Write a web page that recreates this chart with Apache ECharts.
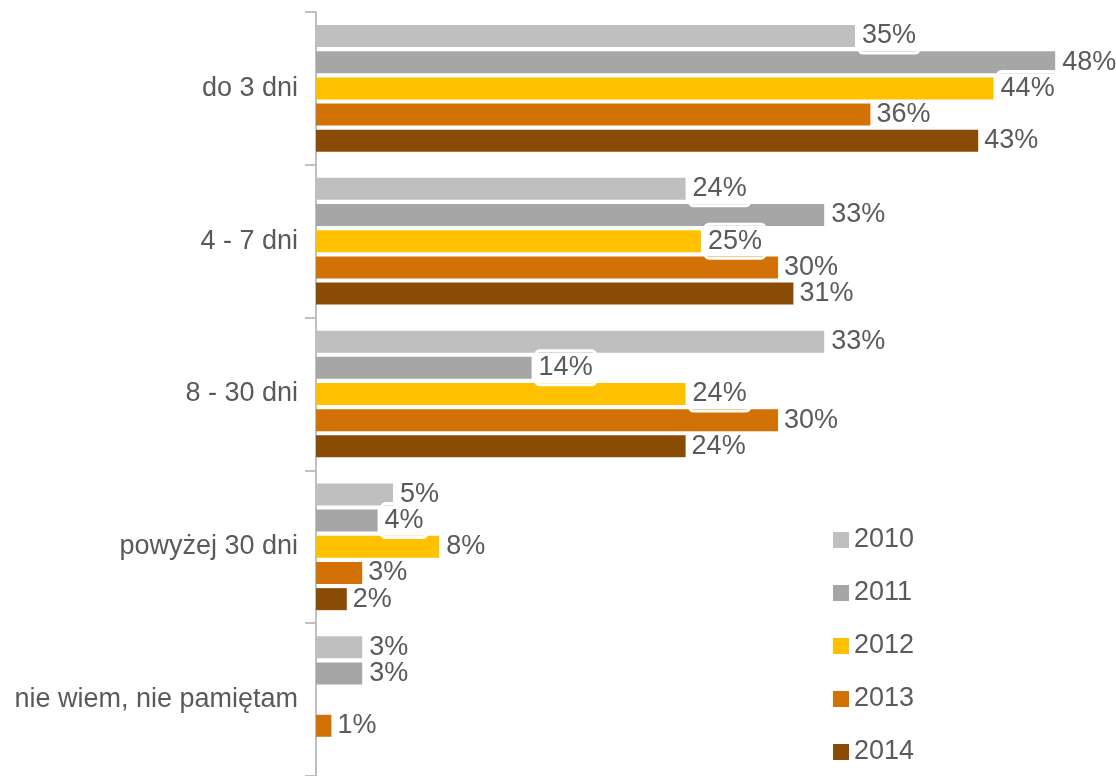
<!DOCTYPE html>
<html>
<head>
<meta charset="utf-8">
<style>
  html, body { margin: 0; padding: 0; background: #ffffff; }
  #chart { width: 1116px; height: 776px; }
</style>
<script src="https://cdn.jsdelivr.net/npm/echarts@6/dist/echarts.min.js"></script>
</head>
<body>
<div id="chart"></div>
<script>
// Czas trwania – odpowiedzi w kolejnych latach (%)
const categories = ['do 3 dni', '4 - 7 dni', '8 - 30 dni', 'powyżej 30 dni', 'nie wiem, nie pamiętam'];
const years = ['2010', '2011', '2012', '2013', '2014'];
const v2010 = [35, 24, 33, 5, 3];
const v2011 = [48, 33, 14, 4, 3];
const v2012 = [44, 25, 24, 8, null];
const v2013 = [36, 30, 30, 3, 1];
const v2014 = [43, 31, 24, 2, null];
const seriesValues = [v2010, v2011, v2012, v2013, v2014];
const colors = ['#bfbfbf', '#a6a6a6', '#ffc000', '#d27206', '#8a4b05'];
// labels of the first three years sit on a white rounded box
const boxedLabel = [true, true, true, false, false];

const FONT = '"Liberation Sans", Arial, sans-serif';
const TEXT = '#5a5a5a';

const chart = echarts.init(document.getElementById('chart'), null, { renderer: 'canvas' });

function makeLabel(boxed) {
  if (!boxed) {
    return {
      show: true,
      position: 'right',
      distance: 6,
      formatter: p => p.value + '%',
      fontFamily: FONT,
      fontSize: 27,
      lineHeight: 30,
      color: TEXT
    };
  }
  return {
    show: true,
    position: 'right',
    distance: 4,
    formatter: p => '{v|' + p.value + '%}',
    padding: [2, 0],
    borderColor: '#ffffff',
    borderWidth: 3,
    borderRadius: 4,
    rich: {
      v: {
        fontFamily: FONT,
        fontSize: 27,
        lineHeight: 30,
        color: TEXT,
        backgroundColor: '#ffffff',
        padding: [0, 3]
      }
    }
  };
}

const series = years.map((y, i) => ({
  name: y,
  type: 'bar',
  data: seriesValues[i].map(v => (v === null ? '-' : v)),
  barWidth: 22,
  barGap: '19%',
  itemStyle: { color: colors[i] },
  label: makeLabel(boxedLabel[i])
}));

chart.setOption({
  animation: false,
  backgroundColor: '#ffffff',
  grid: { left: 316, right: 30, top: 12, bottom: -3, containLabel: false },
  xAxis: { type: 'value', min: 0, max: 50, show: false },
  yAxis: {
    type: 'category',
    inverse: true,
    data: categories,
    axisLine: { show: true, lineStyle: { color: '#bfbfbf', width: 2 } },
    axisTick: { show: true, length: 11, lineStyle: { color: '#bfbfbf', width: 2 } },
    axisLabel: { margin: 18, fontFamily: FONT, fontSize: 27, color: TEXT },
    splitLine: { show: false }
  },
  legend: {
    orient: 'vertical',
    left: 828,
    top: 520,
    icon: 'rect',
    itemWidth: 16,
    itemHeight: 16,
    itemGap: 23,
    data: years,
    textStyle: { fontFamily: FONT, fontSize: 27, lineHeight: 30, color: TEXT }
  },
  series: series
});
</script>
</body>
</html>
